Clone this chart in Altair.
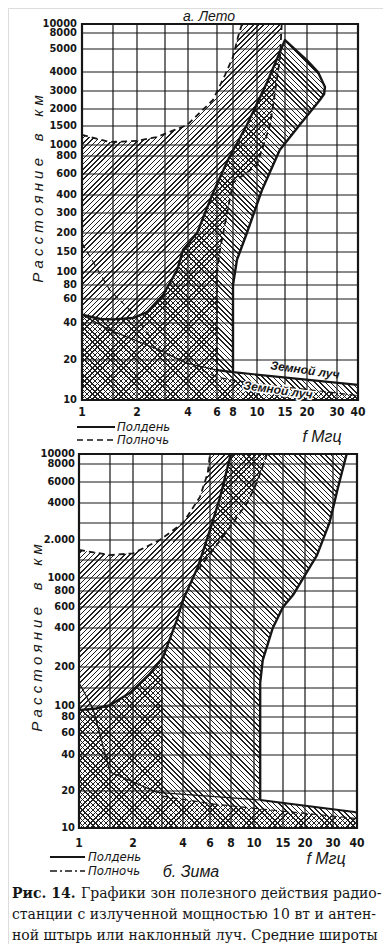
import math
import numpy as np
import pandas as pd
import altair as alt

# ------------------------------------------------------------------ data
F_GRID = [1, 1.5, 2, 3, 4, 6, 8, 10, 15, 20, 30, 40]
F_TICKS = [1, 2, 4, 6, 8, 10, 15, 20, 30, 40]

A_D_GRID = [10, 20, 40, 60, 80, 100, 150, 200, 300, 400, 600, 800, 1000, 1500,
            2000, 3000, 4000, 5000, 8000, 10000]
A_D_TICKS = A_D_GRID
B_D_GRID = [10, 20, 40, 60, 80, 100, 150, 200, 300, 400, 600, 800, 1000, 1500,
            2000, 3000, 4000, 6000, 8000, 10000]
B_D_TICKS = [10, 20, 40, 60, 80, 100, 200, 400, 600, 800, 1000, 2000, 4000,
             6000, 8000, 10000]
B_D_TEXT = ["10", "20", "40", "60", "80", "100", "200", "400", "600", "800",
            "1000", "2.000", "4000", "6000", "8000", "10000"]

# --- а. Лето (summer)
A_MID_UP_F = [1, 1.44, 2, 2.67, 3.96, 5.67, 6.93, 8, 8.38, 8.7]
A_MID_UP_D = [1240, 1066, 1090, 1187, 1526, 2450, 3820, 4630, 7110, 10000]
A_MID_RT_F = [14.3, 13.95, 12.1, 10, 8, 6.33, 6, 6]
A_MID_RT_D = [10000, 4580, 1530, 693, 507, 155, 100, 14.8]
A_NOON_UP_F = [1, 1.27, 1.5, 1.91, 2.31, 2.91, 3.49, 3.76, 4.54, 5.67, 7.3, 9.1, 11.6, 15]
A_NOON_UP_D = [46, 42.8, 42.5, 43.5, 48, 65, 104, 155, 200, 416, 750, 1526, 3440, 6510]
A_NOON_RT_F = [15, 20, 23.2, 25.5, 25.2, 23.8, 18.2, 13.9, 10.75, 9.1, 8.3, 8, 8]
A_NOON_RT_D = [6510, 4480, 4000, 3190, 2800, 2450, 1530, 903, 440, 200, 128, 80, 16.2]
A_GW_NOON_F = [1, 1.44, 2.79, 3.9, 6]
A_GW_NOON_D = [46, 35, 24, 19, 16.8]
A_GW_NOON2_F = [6, 8, 40]
A_GW_NOON2_D = [16.8, 16.2, 13]
A_GW_MID_F = [1, 1.185, 1.44, 1.91, 2.79, 6, 10, 20, 40]
A_GW_MID_D = [172, 115, 72, 47, 24, 14.8, 13.2, 12, 10.8]

# --- б. Зима (winter)
B_MID_UP_F = [1, 1.5, 2, 2.91, 4, 5.16, 5.8, 6]
B_MID_UP_D = [1732, 1610, 1650, 2000, 3000, 4500, 6930, 10000]
B_MID_RT_F = [12.0, 10.4, 9.4, 8.15, 6.25, 5.0]
B_MID_RT_D = [10000, 5890, 4080, 3000, 1732, 1200]
B_NOON_LF_F = [1, 1.25, 1.5, 1.92, 2.5, 3.05, 3.68, 4, 5.0, 6, 6.9, 7.9, 8.05]
B_NOON_LF_D = [92, 95, 102, 134, 180, 248, 468, 681, 1280, 2540, 4500, 9350, 10000]
B_NOON_RT_F = [35.4, 35, 31.8, 28.6, 23.8, 17.1, 15, 13.0, 11.3, 10.9, 10.9]
B_NOON_RT_D = [10000, 9350, 5340, 3040, 1610, 744, 600, 400, 232, 161, 16.9]
B_GW_NOON_F = [1, 1.2, 1.5, 2.8, 10.9]
B_GW_NOON_D = [161, 95, 28.8, 19.5, 16.9]
B_GW_NOON2_F = [10.9, 38.8, 40]
B_GW_NOON2_D = [16.9, 13.5, 13.3]
B_GW_MID_F = [3, 6.25, 10.9, 24.8, 36.7, 40]
B_GW_MID_D = [18.2, 15.7, 14.3, 12.8, 12.1, 11.9]
B_VERT_F = [3, 3]
B_VERT_D = [248, 18.2]

CAPTION = ["Графики зон полезного действия радио-",
           "станции с излученной мощностью 10 вт и антен-",
           "ной штырь или наклонный луч. Средние широты"]
NB = "\u00a0"
YTITLE = "Р а с с т о я н и е" + NB * 3 + " в" + NB * 3 + " к м"

# ------------------------------------------------------------------ layout / style
W, H = 375, 936
XA_PX = [74, 105, 129, 157, 180, 209, 225, 249, 277, 299, 329, 350]
YA_PX = [392, 352, 315, 291, 277, 264, 244, 225, 205, 187, 166, 148, 137, 118,
         101, 83, 64, 41, 25, 16]
XB_PX = [71, 102, 125, 154, 175, 202, 223, 246, 275, 297, 325, 349]
YB_PX = [820, 783, 747, 725, 709, 698, 680, 659, 640, 620, 599, 583, 570, 552,
         532, 515, 495, 474, 456, 446]

INK = "#161616"
HATCH = "#202020"
CLEAR = "rgba(255,255,255,0)"
NUMFONT = "Liberation Sans Narrow, DejaVu Sans Condensed, sans-serif"
SANS = "Liberation Sans, DejaVu Sans, sans-serif"
SERIF = "DejaVu Serif, Liberation Serif, serif"
CALC = dict(lf="log(datum.f)/LN10", ld="log(datum.d)/LN10")

PANEL = {
    "A": (XA_PX, A_D_GRID, YA_PX),
    "B": (XB_PX, B_D_GRID, YB_PX),
}


def lg(vals):
    return [round(math.log10(v), 6) for v in vals]


def xscale(p):
    return alt.Scale(type="linear", domain=lg(F_GRID), range=PANEL[p][0],
                     nice=False, zero=False)


def yscale(p):
    return alt.Scale(type="linear", domain=lg(PANEL[p][1]), range=PANEL[p][2],
                     nice=False, zero=False)


def to_px(p, f, d):
    xp, dg, yp = PANEL[p]
    return (np.interp(np.log10(f), np.log10(F_GRID), xp),
            np.interp(np.log10(d), np.log10(dg), yp))


def xy(p):
    return dict(x=alt.X("lf:Q", scale=xscale(p), axis=None),
                y=alt.Y("ld:Q", scale=yscale(p), axis=None))


def path_df(f, d):
    return pd.DataFrame({"f": f, "d": d, "i": list(range(len(f)))})


def hatch(px, py, kind, ph=5.2, lwh=1.5):
    w = float(max(px) - min(px))
    h = float(max(py) - min(py))
    span = w + h
    dx = w * span / (w * w + h * h)
    if kind == "/":
        x1, y1, x2, y2 = 0.0, 0.0, dx, dx * h / w
    else:
        x1, y1, x2, y2 = 0.0, 1.0, dx, 1.0 - dx * h / w
    T = ph / span
    L = lwh / span
    stops = []
    t = 0.0
    while t < 1.0:
        a = round(t, 5)
        b = round(min(t + L, 1.0), 5)
        c = round(min(t + T, 1.0), 5)
        stops += [{"offset": a, "color": HATCH}, {"offset": b, "color": HATCH},
                  {"offset": b, "color": CLEAR}, {"offset": c, "color": CLEAR}]
        t += T
    return {"gradient": "linear", "x1": x1, "y1": y1, "x2": round(x2, 5),
            "y2": round(y2, 5), "stops": stops}


def poly(p, f, d, kind):
    px, py = to_px(p, f, d)
    return (alt.Chart(path_df(f, d)).transform_calculate(**CALC)
            .mark_line(fill=hatch(px, py, kind), strokeWidth=0, strokeOpacity=0)
            .encode(order="i:Q", **xy(p)))


def curve(p, f, d, width=2.2, dash=None):
    kw = dict(stroke=INK, strokeWidth=width, strokeJoin="round")
    if dash:
        kw["strokeDash"] = dash
    return (alt.Chart(path_df(f, d)).transform_calculate(**CALC)
            .mark_line(**kw).encode(order="i:Q", **xy(p)))


def grid(p):
    dg = PANEL[p][1]
    vdf = pd.DataFrame({"f": F_GRID[1:-1], "d0": 10, "d1": 10000})
    v = (alt.Chart(vdf)
         .transform_calculate(lf="log(datum.f)/LN10", l0="log(datum.d0)/LN10",
                              l1="log(datum.d1)/LN10")
         .mark_rule(stroke=INK, strokeWidth=1.2)
         .encode(x=alt.X("lf:Q", scale=xscale(p), axis=None),
                 y=alt.Y("l0:Q", scale=yscale(p), axis=None), y2="l1:Q"))
    hdf = pd.DataFrame({"d": dg[1:-1], "f0": 1, "f1": 40})
    hl = (alt.Chart(hdf)
          .transform_calculate(ld="log(datum.d)/LN10", l0="log(datum.f0)/LN10",
                               l1="log(datum.f1)/LN10")
          .mark_rule(stroke=INK, strokeWidth=1.2)
          .encode(x=alt.X("l0:Q", scale=xscale(p), axis=None), x2="l1:Q",
                  y=alt.Y("ld:Q", scale=yscale(p), axis=None)))
    fdf = pd.DataFrame({"f0": [1], "f1": [40], "d0": [10], "d1": [10000]})
    fr = (alt.Chart(fdf)
          .transform_calculate(a="log(datum.f0)/LN10", b="log(datum.f1)/LN10",
                               c="log(datum.d0)/LN10", e="log(datum.d1)/LN10")
          .mark_rect(fillOpacity=0, stroke=INK, strokeWidth=2.2)
          .encode(x=alt.X("a:Q", scale=xscale(p), axis=None), x2="b:Q",
                  y=alt.Y("c:Q", scale=yscale(p), axis=None), y2="e:Q"))
    return [v, hl, fr]


def ticks(p, ylabels, ytext, xlab_y, ylab_x):
    xt = (alt.Chart(pd.DataFrame({"f": F_TICKS, "lab": [str(v) for v in F_TICKS]}))
          .transform_calculate(lf="log(datum.f)/LN10")
          .mark_text(font=NUMFONT, fontSize=12, fontWeight="bold", color=INK,
                     align="center", baseline="alphabetic")
          .encode(x=alt.X("lf:Q", scale=xscale(p), axis=None),
                  y=alt.value(xlab_y), text="lab:N"))
    yt = (alt.Chart(pd.DataFrame({"d": ylabels, "lab": ytext}))
          .transform_calculate(ld="log(datum.d)/LN10")
          .mark_text(font=NUMFONT, fontSize=11, fontWeight="bold", color=INK,
                     align="right", baseline="middle")
          .encode(x=alt.value(ylab_x),
                  y=alt.Y("ld:Q", scale=yscale(p), axis=None), text="lab:N"))
    return [xt, yt]


def label(txt, x, y, size=13, font=SANS, style="italic", weight="normal",
          align="left", angle=0, halo=False, baseline="middle"):
    kw = dict(font=font, fontSize=size, fontStyle=style, fontWeight=weight,
              align=align, baseline=baseline, angle=angle, color=INK)
    out = []
    if halo:
        out.append(alt.Chart(pd.DataFrame({"t": [txt]})).mark_text(
            stroke="white", strokeWidth=3, **kw).encode(
            x=alt.value(x), y=alt.value(y), text="t:N"))
    out.append(alt.Chart(pd.DataFrame({"t": [txt]})).mark_text(**kw).encode(
        x=alt.value(x), y=alt.value(y), text="t:N"))
    return out


def key(x1, x2, y, dash=None, width=2.0):
    kw = dict(stroke=INK, strokeWidth=width)
    if dash:
        kw["strokeDash"] = dash
    return alt.Chart(pd.DataFrame({"k": [0]})).mark_rule(**kw).encode(
        x=alt.value(x1), x2=alt.value(x2), y=alt.value(y))


DASH = [6, 4]
layers = []

# ---------------- panel A: Лето
a_mid_f = [1] + A_MID_UP_F + A_MID_RT_F + [10, 20, 40, 40]
a_mid_d = [10] + A_MID_UP_D + A_MID_RT_D + [13.2, 12, 10.8, 10]
a_noon_f = [1] + A_NOON_UP_F + A_NOON_RT_F[1:] + [40, 40]
a_noon_d = [10] + A_NOON_UP_D + A_NOON_RT_D[1:] + [13, 10]
layers += [poly("A", a_mid_f, a_mid_d, "/"), poly("A", a_noon_f, a_noon_d, "\\")]
layers += grid("A")
layers += [
    curve("A", A_NOON_UP_F + A_NOON_RT_F[1:], A_NOON_UP_D + A_NOON_RT_D[1:], 2.4),
    curve("A", A_GW_NOON2_F, A_GW_NOON2_D, 2.2),
    curve("A", A_GW_NOON_F, A_GW_NOON_D, 1.2),
    curve("A", A_MID_UP_F, A_MID_UP_D, 1.8, DASH),
    curve("A", A_MID_RT_F, A_MID_RT_D, 1.8, DASH),
    curve("A", A_GW_MID_F, A_GW_MID_D, 1.2, DASH),
]
layers += ticks("A", A_D_TICKS, [str(v) for v in A_D_TICKS], 408, 69)

# ---------------- panel B: Зима
b_mid_f = [1] + B_MID_UP_F + B_MID_RT_F + [4, 3.68, 3.05, 3, 3] + B_GW_MID_F[1:] + [40]
b_mid_d = [10] + B_MID_UP_D + B_MID_RT_D + [681, 468, 248, 248, 18.2] + B_GW_MID_D[1:] + [10]
b_noon_f = [1] + B_NOON_LF_F + B_NOON_RT_F + [38.8, 40, 40]
b_noon_d = [10] + B_NOON_LF_D + B_NOON_RT_D + [13.5, 13.3, 10]
layers += [poly("B", b_mid_f, b_mid_d, "/"), poly("B", b_noon_f, b_noon_d, "\\")]
layers += grid("B")
layers += [
    curve("B", B_NOON_LF_F, B_NOON_LF_D, 2.4),
    curve("B", B_NOON_RT_F, B_NOON_RT_D, 2.4),
    curve("B", B_GW_NOON2_F, B_GW_NOON2_D, 2.2),
    curve("B", B_GW_NOON_F, B_GW_NOON_D, 1.2),
    curve("B", B_MID_UP_F, B_MID_UP_D, 1.8, DASH),
    curve("B", B_MID_RT_F, B_MID_RT_D, 1.8, DASH),
    curve("B", B_VERT_F, B_VERT_D, 1.2, DASH),
    curve("B", B_GW_MID_F, B_GW_MID_D, 1.2, DASH),
]
layers += ticks("B", B_D_TICKS, B_D_TEXT, 839, 67)

# ---------------- texts
layers += label("а.  Лето", 201, 13, size=14, align="center", baseline="alphabetic")
layers += label(YTITLE, 30, 181, size=15, align="center", angle=270)
layers += label(YTITLE, 29, 630, size=15, align="center", angle=270)
layers += label("Земной  луч", 297, 362, size=12, weight="bold", align="center", angle=8)
layers += label("Земной  луч", 270, 382, size=12, weight="bold", align="center", angle=8, halo=True)
layers += [key(69, 107, 419), key(69, 107, 432, DASH, 1.6)]
layers += label("Полдень", 109, 419, size=13, font=NUMFONT)
layers += label("Полночь", 109, 432, size=13, font=NUMFONT)
layers += label("f Мгц", 314, 429, size=16, align="center")
layers += [key(42, 77, 849), key(42, 77, 863, [7, 3, 2, 3], 1.6)]
layers += label("Полдень", 80, 849, size=13, font=NUMFONT)
layers += label("Полночь", 80, 863, size=13, font=NUMFONT)
layers += label("б.  Зима", 183, 864, size=16, align="center")
layers += label("f Мгц", 318, 851, size=16, align="center")

CAP = 14.0
layers += label("Рис. 14.", 4, 890, size=CAP, font=SERIF, style="normal", weight="bold",
                baseline="alphabetic")
layers += label(CAPTION[0], 73, 890, size=CAP, font=SERIF, style="normal", baseline="alphabetic")
layers += label(CAPTION[1], 4, 911, size=CAP, font=SERIF, style="normal", baseline="alphabetic")
layers += label(CAPTION[2], 4, 932, size=CAP, font=SERIF, style="normal", baseline="alphabetic")

chart = (alt.layer(*layers)
         .resolve_scale(x="independent", y="independent")
         .properties(width=W, height=H, padding=0,
                     autosize=alt.AutoSizeParams(type="none"))
         .configure_view(strokeWidth=0)
         .configure(background="white"))

chart.save("out.html", embed_options={"renderer": "svg", "actions": False})
